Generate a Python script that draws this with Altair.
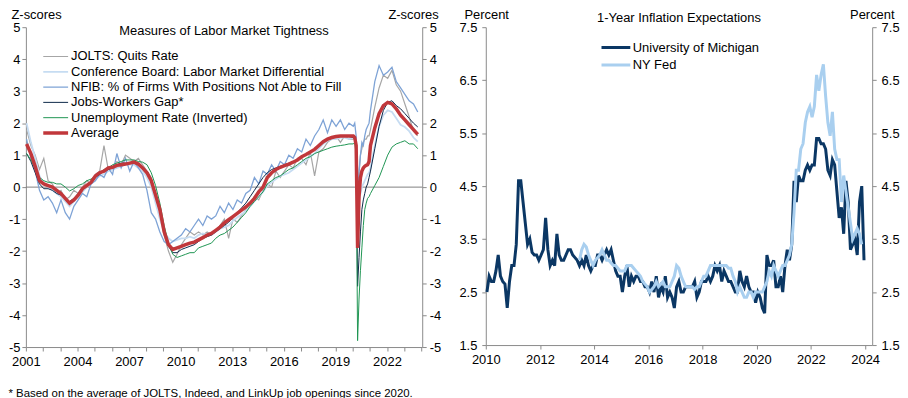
import altair as alt
import pandas as pd

FONT = "Liberation Sans"
AXIS_GRAY = "#8a8a8a"

# ============================ LEFT PANEL ============================
LEFT_SERIES = [
    "JOLTS: Quits Rate",
    "Conference Board: Labor Market Differential",
    "NFIB: % of Firms With Positions Not Able to Fill",
    "Jobs-Workers Gap*",
    "Unemployment Rate (Inverted)",
    "Average",
]
LEFT_COLORS = ["#a6a6a6", "#c6dcf2", "#7ea3d6", "#0d2849", "#1f9553", "#c1373b"]
LEFT_WIDTHS = [1.2, 1.8, 1.3, 1.0, 1.0, 3.5]

# observation periods (year, month index): quarterly 2001-2019, monthly 2020, quarterly 2021-2023
LEFT_PERIODS = ([(y, m) for y in range(2001, 2020) for m in (0, 3, 6, 9)]
                + [(2020, m) for m in range(12)]
                + [(y, m) for y in range(2021, 2024) for m in (0, 3, 6, 9)])

quits = [
    1.8, 1.3, 1.0, 0.55,      # 2001
    0.9, 0.2, 0.1, -0.2,      # 2002
    -0.1, -0.4, -0.3, -0.1,   # 2003
    -0.2, 0.0, 0.2, 0.1,      # 2004
    0.4, 0.5, 1.3, 0.55,      # 2005
    0.6, 0.8, 0.7, 1.0,       # 2006
    0.9, 0.8, 0.9, 0.7,       # 2007
    0.5, 0.3, -0.3, -0.8,     # 2008
    -1.5, -2.0, -2.35, -2.1,  # 2009
    -1.8, -1.6, -1.4, -1.5,   # 2010
    -1.4, -1.5, -1.4, -1.5,   # 2011
    -1.35, -1.2, -1.0, -1.6,  # 2012
    -1.0, -1.1, -0.9, -0.7,   # 2013
    -0.5, -0.3, -0.4, -0.1,   # 2014
    0.1, 0.0, 0.5, 0.3,       # 2015
    0.5, 0.7, 0.6, 0.9,       # 2016
    0.9, 0.7, 1.1, 0.35,      # 2017
    1.1, 1.2, 1.4, 1.5,       # 2018
    1.6, 1.4, 1.6, 1.5,       # 2019
    1.5, 1.6, 1.0, -0.7, 0.4, 1.0, 1.2, 1.4, 1.5, 1.5, 1.6, 1.6,  # 2020 monthly
    1.8, 2.5, 3.1, 3.5,       # 2021
    3.4, 3.65, 3.2, 3.0,      # 2022
    2.6, 2.2, 1.75, 1.6,      # 2023
]
conf_board = [
    2.0, 1.4, 0.9, 0.35,
    0.1, 0.0, -0.1, -0.2,
    -0.3, -0.45, -0.6, -0.45,
    -0.3, -0.15, 0.0, 0.15,
    0.25, 0.35, 0.4, 0.5,
    0.55, 0.6, 0.65, 0.7,
    0.7, 0.7, 0.6, 0.5,
    0.3, 0.0, -0.5, -1.0,
    -1.4, -1.6, -1.7, -1.65,
    -1.6, -1.6, -1.55, -1.6,
    -1.5, -1.45, -1.5, -1.5,
    -1.4, -1.3, -1.25, -1.2,
    -1.05, -0.95, -0.85, -0.75,
    -0.6, -0.45, -0.3, -0.15,
    0.05, 0.15, 0.25, 0.35,
    0.4, 0.45, 0.55, 0.65,
    0.75, 0.85, 0.95, 1.05,
    1.2, 1.35, 1.45, 1.5,
    1.5, 1.55, 1.55, 1.5,
    1.55, 1.5, 1.3, -0.6, -0.4, -0.2, 0.0, 0.1, 0.2, 0.3, 0.4, 0.45,
    0.6, 1.3, 1.9, 2.25,
    2.4, 2.35, 2.15, 1.95,
    1.88, 1.75, 1.55, 1.42,
]
nfib = [
    1.5, 0.9, 0.5, -0.1,
    -0.4, -0.3, -0.5, -0.8,
    -0.4, -0.8, -1.0, -0.6,
    -0.4, -0.2, -0.3, 0.1,
    0.2, 0.4, 0.3, 0.6,
    0.4, 1.05, 0.6, 0.9,
    0.5, 0.8, 0.6, 0.4,
    -0.1, -0.8, -1.0, -1.4,
    -1.7, -1.8, -1.7, -1.6,
    -1.5, -1.3, -1.4, -1.2,
    -1.0, -1.2, -0.9, -1.0,
    -0.9, -0.6, -0.8, -0.5,
    -0.7, -0.4, -0.5, -0.2,
    -0.1, 0.3, 0.1, 0.5,
    0.4, 0.7, 0.5, 0.8,
    0.7, 1.0, 0.9, 1.2,
    1.1, 1.5, 1.3, 1.6,
    1.8, 2.1, 1.7, 2.1,
    1.9, 2.1, 1.8, 2.0,
    1.9, 2.0, 1.6, -0.3, 0.5, 1.0, 1.4, 1.3, 1.6, 1.8, 1.9, 2.0,
    2.4, 3.3, 3.8, 3.5,
    3.6, 3.75, 3.3, 3.1,
    2.9, 2.7, 2.6, 2.35,
]
jobs_gap = [
    1.05, 0.8, 0.45, 0.1,
    -0.05, -0.05, -0.1, -0.2,
    -0.25, -0.35, -0.45, -0.35,
    -0.2, -0.05, 0.05, 0.15,
    0.3, 0.4, 0.5, 0.55,
    0.6, 0.7, 0.75, 0.75,
    0.75, 0.78, 0.75, 0.62,
    0.5, 0.25, -0.2, -0.7,
    -1.45, -1.85, -2.05, -2.05,
    -1.95, -1.9, -1.85, -1.8,
    -1.7, -1.6, -1.55, -1.5,
    -1.4, -1.3, -1.2, -1.1,
    -0.95, -0.8, -0.65, -0.5,
    -0.3, -0.1, 0.1, 0.3,
    0.45, 0.55, 0.6, 0.65,
    0.7, 0.75, 0.78, 0.85,
    0.95, 1.02, 1.1, 1.2,
    1.32, 1.42, 1.5, 1.55,
    1.58, 1.6, 1.6, 1.58,
    1.55, 1.5, 1.2, -3.1, -2.2, -1.4, -0.7, -0.4, -0.2, 0.0, 0.1, 0.3,
    0.5, 1.2, 1.9, 2.4,
    2.65, 2.7, 2.55, 2.45,
    2.3, 2.15, 2.0, 1.88,
]
unemployment = [
    1.05, 0.85, 0.6, 0.3,
    0.2, 0.15, 0.15, 0.1,
    0.1, 0.0, -0.12, -0.05,
    0.05, 0.1, 0.2, 0.25,
    0.35, 0.45, 0.55, 0.6,
    0.7, 0.75, 0.8, 0.85,
    0.85, 0.85, 0.8, 0.78,
    0.7, 0.45, 0.05, -0.5,
    -1.2, -1.75, -2.1, -2.2,
    -2.15, -2.1, -2.05, -2.05,
    -1.9, -1.85, -1.8, -1.75,
    -1.6, -1.5, -1.45, -1.35,
    -1.25, -1.1, -0.95, -0.8,
    -0.6, -0.45, -0.3, -0.15,
    0.1, 0.2, 0.3, 0.35,
    0.45, 0.55, 0.6, 0.7,
    0.8, 0.9, 0.95, 1.05,
    1.1, 1.15, 1.2, 1.25,
    1.28, 1.3, 1.32, 1.35,
    1.35, 1.4, 1.0, -4.8, -3.5, -2.6, -1.9, -1.2, -0.7, -0.5, -0.35, -0.3,
    -0.2, 0.05, 0.3, 0.65,
    1.0, 1.25, 1.35, 1.4,
    1.45, 1.35, 1.35, 1.2,
]
average = [
    1.35, 1.05, 0.65, 0.2,
    0.1, 0.05, 0.0, -0.1,
    -0.2, -0.35, -0.5, -0.4,
    -0.25, -0.05, 0.05, 0.15,
    0.35, 0.45, 0.5, 0.6,
    0.62, 0.68, 0.7, 0.72,
    0.75, 0.78, 0.72, 0.6,
    0.45, 0.2, -0.25, -0.7,
    -1.4, -1.8, -1.95, -1.9,
    -1.85, -1.8, -1.75, -1.72,
    -1.65, -1.58, -1.5, -1.45,
    -1.35, -1.25, -1.12, -1.02,
    -0.92, -0.82, -0.72, -0.62,
    -0.5, -0.35, -0.15, 0.0,
    0.3, 0.45, 0.55, 0.62,
    0.67, 0.72, 0.78, 0.85,
    0.95, 1.02, 1.1, 1.18,
    1.3, 1.42, 1.5, 1.55,
    1.58, 1.6, 1.6, 1.6,
    1.6, 1.55, 1.3, -1.9, -0.3, 0.3, 0.5, 0.6, 0.65, 0.68, 0.7, 0.8,
    1.3, 1.85, 2.3, 2.55,
    2.65, 2.6, 2.45, 2.25,
    2.1, 1.95, 1.8, 1.65,
]
LEFT_VALUES = [quits, conf_board, nfib, jobs_gap, unemployment, average]
ZERO_LINE = [0]

LEFT_X_TICKS = list(range(2001, 2025))
LEFT_Y_TICKS = list(range(-5, 6))

# ============================ RIGHT PANEL ============================
RIGHT_SERIES = ["University of Michigan", "NY Fed"]
RIGHT_COLORS = ["#0b3764", "#a9cfef"]

MICH_START = 2010  # monthly from Jan 2010
michigan = [
    2.5, 2.8, 2.7, 2.7, 2.9, 3.2, 2.8, 2.7, 2.65, 2.2, 2.7, 3.0,   # 2010
    3.0, 3.4, 4.6, 4.6, 4.2, 3.8, 3.4, 3.5, 3.25, 3.2, 3.2, 3.1,   # 2011
    3.2, 3.3, 3.9, 3.3, 3.0, 3.1, 3.0, 3.6, 3.2, 3.1, 3.1, 3.2,    # 2012
    3.3, 3.3, 3.2, 3.15, 3.1, 3.0, 3.1, 3.0, 3.2, 3.0, 2.9, 3.0,   # 2013
    3.0, 3.2, 3.2, 3.1, 3.2, 3.3, 3.2, 3.3, 3.1, 2.9, 2.8, 2.8,    # 2014
    2.5, 2.8, 3.0, 2.6, 2.8, 2.7, 2.8, 2.8, 2.7, 2.7, 2.6, 2.6,    # 2015
    2.5, 2.7, 2.5, 2.8, 2.4, 2.6, 2.5, 2.8, 2.4, 2.5, 2.4, 2.2,    # 2016
    2.6, 2.7, 2.5, 2.5, 2.6, 2.6, 2.6, 2.6, 2.7, 2.4, 2.5, 2.7,    # 2017
    2.7, 2.7, 2.8, 2.7, 2.8, 3.0, 2.9, 3.0, 2.7, 2.9, 2.8, 2.7,    # 2018
    2.7, 2.6, 2.5, 2.5, 2.9, 2.7, 2.6, 2.8, 2.6, 2.5, 2.5, 2.3,    # 2019
    2.5, 2.4, 2.2, 2.1, 3.2, 3.0, 3.0, 3.1, 2.6, 2.6, 2.8, 2.5,    # 2020
    3.0, 3.3, 3.1, 3.4, 4.6, 4.2, 4.7, 4.6, 4.6, 4.8, 4.9, 4.8,    # 2021
    4.9, 4.9, 5.4, 5.4, 5.3, 5.3, 5.2, 4.8, 4.7, 5.0, 4.9, 4.4,    # 2022
    3.9, 4.1, 3.6, 4.6, 4.2, 3.3, 3.4, 3.5, 3.2, 4.2, 4.5, 3.1,    # 2023
]
NYFED_START = (2013, 5)  # monthly from Jun 2013
nyfed = [
    3.1, 3.3, 3.4, 3.35, 3.2, 3.1, 3.0,                              # 2013 Jun-Dec
    3.1, 3.15, 3.2, 3.3, 3.2, 3.1, 3.1, 3.05, 3.0, 3.0, 2.95, 2.9,  # 2014
    2.9, 2.9, 3.0, 3.0, 3.0, 2.95, 2.9, 2.85, 2.8, 2.7, 2.65, 2.6,  # 2015
    2.5, 2.55, 2.6, 2.7, 2.6, 2.65, 2.7, 2.6, 2.6, 2.6, 2.7, 2.8,   # 2016
    3.0, 2.95, 2.8, 2.7, 2.6, 2.6, 2.6, 2.6, 2.55, 2.6, 2.6, 2.7,   # 2017
    2.8, 2.8, 2.9, 3.0, 3.0, 3.0, 3.0, 3.0, 3.0, 3.0, 3.0, 2.95,    # 2018
    2.95, 2.8, 2.7, 2.5, 2.6, 2.5, 2.4, 2.4, 2.5, 2.5, 2.4, 2.5,    # 2019
    2.5, 2.5, 2.5, 2.6, 2.7, 2.9, 2.8, 3.0, 2.9, 2.8, 2.9, 3.0,     # 2020
    3.0, 3.1, 3.2, 3.4, 4.0, 4.8, 4.8, 5.2, 5.3, 5.7, 5.9, 6.0,     # 2021
    5.8, 6.0, 6.6, 6.3, 6.6, 6.8, 6.2, 5.7, 5.45, 5.9, 5.2, 5.0,    # 2022
    5.0, 4.2, 4.7, 4.4, 4.1, 3.8, 3.5, 3.6, 3.7, 3.6, 3.4,          # 2023 Jan-Nov
]
RIGHT_X_TICKS = list(range(2010, 2025, 2))
RIGHT_Y_TICKS = [1.5, 2.5, 3.5, 4.5, 5.5, 6.5, 7.5]

FOOTNOTE = "* Based on the average of JOLTS, Indeed, and LinkUp job openings since 2020."

HYPHEN_MINUS = "replace(datum.label, '\u2212', '-')"

# ---------------------------- data frames ----------------------------
left_x = [y + (m + 0.5) / 12 for y, m in LEFT_PERIODS]
left_rows = []
for name, vals in zip(LEFT_SERIES, LEFT_VALUES):
    assert len(vals) == len(left_x), (name, len(vals))
    for xv, v in zip(left_x, vals):
        left_rows.append({"series": name, "year": xv, "z": v})
left_df = pd.DataFrame(left_rows)

mich_df = pd.DataFrame({
    "series": RIGHT_SERIES[0],
    "year": [MICH_START + (i + 0.5) / 12 for i in range(len(michigan))],
    "v": michigan,
})
ny_y0, ny_m0 = NYFED_START
ny_df = pd.DataFrame({
    "series": RIGHT_SERIES[1],
    "year": [ny_y0 + (ny_m0 + i + 0.5) / 12 for i in range(len(nyfed))],
    "v": nyfed,
})

# ---------------------------- left chart ----------------------------
left_legend = alt.Legend(
    title=None, orient="none", legendX=15.5, legendY=23, padding=0,
    symbolType="stroke", symbolSize=625, clipHeight=13, rowPadding=1.4,
    labelFont=FONT, labelFontSize=13, labelColor="black", labelOffset=1,
    labelLimit=500,
)

left_x_enc = alt.X(
    "year:Q",
    scale=alt.Scale(domain=[2001, 2024.05], nice=False, zero=False),
    axis=alt.Axis(title=None, values=LEFT_X_TICKS, format="d",
                  labelExpr="(datum.value - 2001) % 3 === 0 ? datum.label : ''",
                  labelOverlap=False, labelFlush=False, labelPadding=5),
)

lines = alt.Chart(left_df).mark_line().encode(
    x=left_x_enc,
    y=alt.Y("z:Q", scale=alt.Scale(domain=[-5, 5], nice=False, zero=False),
            axis=alt.Axis(title="Z-scores", values=LEFT_Y_TICKS, titleAngle=0,
                          titleAlign="left", titleBaseline="middle",
                          titleX=-15, titleY=-13, labelFlush=False,
                          labelOverlap=False, labelPadding=2, labelExpr=HYPHEN_MINUS)),
    color=alt.Color("series:N", scale=alt.Scale(domain=LEFT_SERIES, range=LEFT_COLORS),
                    legend=left_legend),
    strokeWidth=alt.StrokeWidth("series:N",
                                scale=alt.Scale(type="ordinal", domain=LEFT_SERIES, range=LEFT_WIDTHS),
                                legend=left_legend),
)

zero = alt.Chart(pd.DataFrame({"z": ZERO_LINE})).mark_rule(color="#808080", strokeWidth=1).encode(
    y=alt.Y("z:Q", scale=alt.Scale(domain=[-5, 5], nice=False, zero=False),
            axis=alt.Axis(orient="right", title="Z-scores", values=LEFT_Y_TICKS,
                          titleAngle=0, titleAlign="right", titleBaseline="middle",
                          titleX=16, titleY=-13, labelFlush=False,
                          labelOverlap=False, labelPadding=3, labelExpr=HYPHEN_MINUS)),
)

left = alt.layer(zero, lines).resolve_scale(y="independent").properties(
    width=399, height=322,
    title=alt.TitleParams("Measures of Labor Market Tightness", font=FONT, fontSize=13,
                          fontWeight="normal", color="black", anchor="middle",
                          baseline="middle", offset=-35.5),
)

# ---------------------------- right chart ----------------------------
right_legend = alt.Legend(
    title=None, orient="none", legendX=115, legendY=14, padding=0,
    symbolType="stroke", symbolSize=841, symbolStrokeWidth=3, clipHeight=13,
    rowPadding=3.5, labelFont=FONT, labelFontSize=13, labelColor="black",
    labelOffset=1, labelLimit=500,
)
right_x_enc = alt.X(
    "year:Q",
    scale=alt.Scale(domain=[2010, 2024.26], nice=False, zero=False),
    axis=alt.Axis(title=None, values=RIGHT_X_TICKS, format="d",
                  labelOverlap=False, labelFlush=False, labelPadding=5),
)
right_color = alt.Color("series:N", scale=alt.Scale(domain=RIGHT_SERIES, range=RIGHT_COLORS),
                        legend=right_legend)

mich_layer = alt.Chart(mich_df).mark_line(strokeWidth=3).encode(
    x=right_x_enc,
    y=alt.Y("v:Q", scale=alt.Scale(domain=[1.5, 7.5], nice=False, zero=False),
            axis=alt.Axis(title="Percent", values=RIGHT_Y_TICKS, format=".1f",
                          titleAngle=0, titleAlign="left", titleBaseline="middle",
                          titleX=-22, titleY=-13, labelFlush=False,
                          labelOverlap=False, labelPadding=5)),
    color=right_color,
)
ny_layer = alt.Chart(ny_df).mark_line(strokeWidth=3).encode(
    x=right_x_enc,
    y=alt.Y("v:Q", scale=alt.Scale(domain=[1.5, 7.5], nice=False, zero=False),
            axis=alt.Axis(orient="right", title="Percent", values=RIGHT_Y_TICKS, format=".1f",
                          titleAngle=0, titleAlign="right", titleBaseline="middle",
                          titleX=22, titleY=-13, labelFlush=False,
                          labelOverlap=False, labelPadding=5)),
    color=right_color,
)

right = alt.layer(mich_layer, ny_layer).resolve_scale(y="independent").properties(
    width=389, height=320,
    title=alt.TitleParams("1-Year Inflation Expectations", font=FONT, fontSize=13,
                          fontWeight="normal", color="black", anchor="middle",
                          baseline="middle", offset=-22.5),
)

chart = alt.hconcat(left, right, spacing=17).resolve_scale(
    color="independent", strokeWidth="independent"
).resolve_legend(
    color="independent", strokeWidth="independent"
).properties(
    padding={"left": 0, "top": -1, "right": 0, "bottom": 0},
    title=alt.TitleParams(FOOTNOTE, orient="bottom", anchor="start", font=FONT,
                          fontSize=11.5, fontWeight="normal", color="black",
                          baseline="top", offset=19),
).configure_view(stroke=None).configure_axis(
    domainColor=AXIS_GRAY, tickColor=AXIS_GRAY, domainWidth=1, tickWidth=1, tickSize=4,
    labelFont=FONT, labelFontSize=13, labelColor="black",
    titleFont=FONT, titleFontSize=13, titleFontWeight="normal", titleColor="black",
    grid=False,
)

chart.save("out.html", embed_options={"renderer": "svg", "actions": False})
